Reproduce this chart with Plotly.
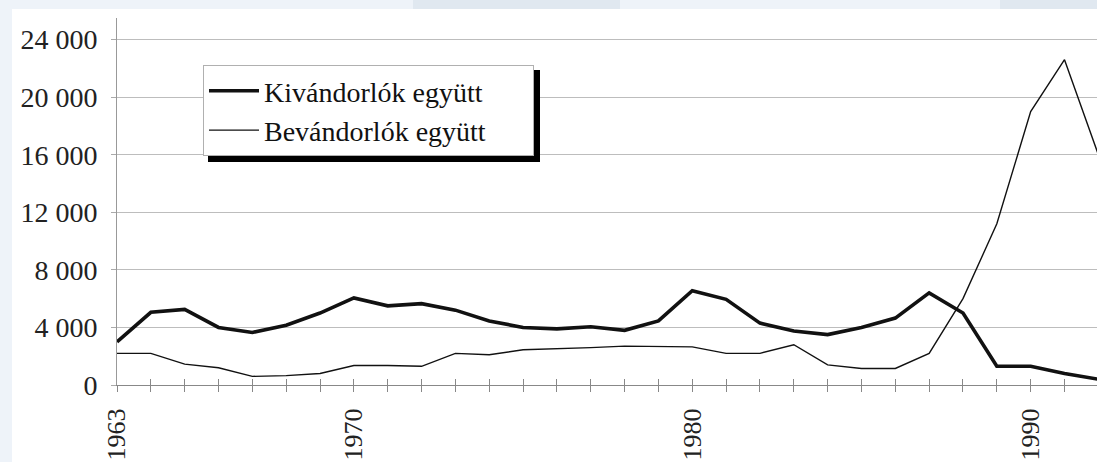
import plotly.graph_objects as go

years = list(range(1963, 1993))
kivandorlok = [3000, 5050, 5250, 4000, 3650, 4150, 5000, 6050, 5500, 5650,
               5200, 4450, 4000, 3900, 4050, 3800, 4450, 6550, 5950, 4300,
               3750, 3500, 4000, 4650, 6400, 5000, 1300, 1300, 800, 400]
bevandorlok = [2200, 2200, 1450, 1200, 600, 650, 800, 1350, 1350, 1300,
               2200, 2100, 2450, 2500, 2600, 2700, 2700, 2650, 2200, 2200,
               2800, 1400, 1150, 1150, 2200, 6000, 11200, 19000, 22600, 16000]
series_names = ["Kivándorlók együtt", "Bevándorlók együtt"]
x_label_years = [1963, 1970, 1980, 1990]
y_tick_vals = [0, 4000, 8000, 12000, 16000, 20000, 24000]
y_tick_text = ["0", "4 000", "8 000", "12 000", "16 000", "20 000", "24 000"]

W, H = 1097, 462
L, R, T, B = 117, 0, 18, 77
pw, ph = W - L - R, H - T - B


def px_x(p):
    return (p - L) / pw


def px_y(p):
    return (H - B - p) / ph


SERIF = "Liberation Serif"
PAD = "\u00a0" * 6

fig = go.Figure()
fig.add_trace(go.Scatter(x=years, y=kivandorlok, name=series_names[0] + PAD, mode="lines",
                         line=dict(color="#111111", width=3.6)))
fig.add_trace(go.Scatter(x=years, y=bevandorlok, name=series_names[1] + PAD, mode="lines",
                         line=dict(color="#111111", width=1.4)))
# helper trace for the inner half of the year ticks
fig.add_trace(go.Scatter(x=[years[0]], y=[0], xaxis="x2", mode="lines",
                         line=dict(width=0), showlegend=False, hoverinfo="skip"))

tick_text = [str(y) if y in x_label_years else "" for y in years]

fig.update_layout(
    width=W, height=H,
    margin=dict(l=L, r=R, t=T, b=B, pad=0, autoexpand=False),
    paper_bgcolor="#eef3f9",
    plot_bgcolor="white",
    showlegend=True,
    legend=dict(x=px_x(203), y=px_y(65), xanchor="left", yanchor="top",
                bgcolor="white", bordercolor="#b0b0b0", borderwidth=1,
                font=dict(family=SERIF, size=28, color="#111111"),
                tracegroupgap=0, itemwidth=50),
    xaxis=dict(range=[1963, 1991.96], tickmode="array", tickvals=years, ticktext=tick_text,
               tickangle=-90, ticks="outside", ticklen=6, tickcolor="#888888",
               showline=True, linecolor="#888888", linewidth=1.2, showgrid=False,
               zeroline=False, tickfont=dict(family=SERIF, size=26, color="#222222"),
               ticklabelstandoff=6, automargin=False),
    xaxis2=dict(overlaying="x", matches="x", anchor="y", tickmode="array", tickvals=years,
                ticks="inside", ticklen=6, tickcolor="#888888", showticklabels=False,
                showgrid=False, zeroline=False, showline=False, automargin=False),
    yaxis=dict(range=[0, 25500], tickmode="array", tickvals=y_tick_vals, ticktext=y_tick_text,
               ticks="outside", ticklen=5, tickcolor="#aaaaaa",
               showline=True, linecolor="#999999", linewidth=1, showgrid=True,
               gridcolor="#bdbdbd", gridwidth=1, zeroline=False,
               tickfont=dict(family=SERIF, size=28, color="#222222"),
               ticklabelstandoff=8, automargin=False),
    shapes=[
        dict(type="rect", xref="paper", yref="paper", x0=px_x(413), x1=px_x(620),
             y0=px_y(9), y1=px_y(0), fillcolor="#e0e8f0", line=dict(width=0), layer="below"),
        dict(type="rect", xref="paper", yref="paper", x0=px_x(1000), x1=px_x(1100),
             y0=px_y(9), y1=px_y(0), fillcolor="#e0e8f0", line=dict(width=0), layer="below"),
        dict(type="rect", xref="paper", yref="paper", x0=px_x(12), x1=px_x(1100),
             y0=px_y(470), y1=px_y(9), fillcolor="white", line=dict(width=0), layer="below"),
        dict(type="rect", xref="paper", yref="paper", x0=px_x(208), x1=px_x(540),
             y0=px_y(162), y1=px_y(70), fillcolor="black", line=dict(width=0), layer="above"),
    ],
)

fig.write_html("out.html", config={"displayModeBar": False},
               post_script="document.body.style.margin='0';")
